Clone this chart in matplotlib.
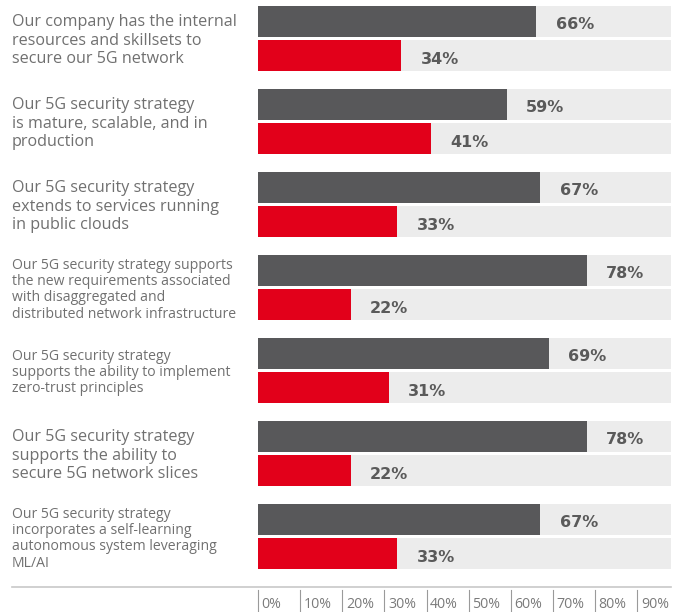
import matplotlib
matplotlib.use('Agg')
import matplotlib.pyplot as plt
import matplotlib.transforms as mtransforms
from matplotlib.lines import Line2D
import numpy as np

categories = [
    "Our company has the internal\nresources and skillsets to\nsecure our 5G network",
    "Our 5G security strategy\nis mature, scalable, and in\nproduction",
    "Our 5G security strategy\nextends to services running\nin public clouds",
    "Our 5G security strategy supports\nthe new requirements associated\nwith disaggregated and\ndistributed network infrastructure",
    "Our 5G security strategy\nsupports the ability to implement\nzero-trust principles",
    "Our 5G security strategy\nsupports the ability to\nsecure 5G network slices",
    "Our 5G security strategy\nincorporates a self-learning\nautonomous system leveraging\nML/AI",
]
large_label = [True, True, True, False, False, True, False]
agree = [66, 59, 67, 78, 69, 78, 67]
disagree = [34, 41, 33, 22, 31, 22, 33]
tick_values = [0, 10, 20, 30, 40, 50, 60, 70, 80, 90]
track = 98

W, H = 686, 612
fig = plt.figure(figsize=(W / 100, H / 100), dpi=100)
# axes spans from the 0% line to the end of the grey tracks, top of figure to baseline rule
ax = fig.add_axes([258 / W, (H - 587) / H, 413 / W, 587 / H])
ax.set_xlim(0, track)
ax.set_ylim(6.608, -0.464)
ax.axis('off')

grey = '#58585a'
red = '#e2001a'
track_col = '#ececec'
text_col = '#707070'
value_col = '#5a5a5a'

y = np.arange(len(categories))
off = 0.205
h = 0.373

for yy in (y - off, y + off):
    ax.barh(yy, track, height=h, color=track_col, zorder=1)
ax.barh(y - off, agree, height=h, color=grey, zorder=2)
ax.barh(y + off, disagree, height=h, color=red, zorder=2)

for i in range(len(categories)):
    for yy, v in ((y[i] - off, agree[i]), (y[i] + off, disagree[i])):
        ax.annotate(f"{v}%", xy=(v, yy), xytext=(14, -2.5), textcoords='offset points',
                    ha='left', va='center', fontsize=11.5, fontweight='bold',
                    color=value_col, family='DejaVu Sans')

# category text sits in the left margin, a little below the group centre
lab_tr = mtransforms.blended_transform_factory(fig.transFigure, ax.transData) + \
    mtransforms.ScaledTranslation(0, -2 / 100, fig.dpi_scale_trans)
for i, cat in enumerate(categories):
    ax.text(12 / W, y[i], cat, transform=lab_tr, ha='left', va='center',
            fontsize=11.6 if large_label[i] else 10.1, color=text_col,
            family='Open Sans',
            linespacing=1.2 if large_label[i] else 1.12)

# baseline rule and the tick dividers under it
fig.add_artist(Line2D([12 / W, 671 / W], [(H - 587) / H] * 2, color='#c8c8c8', lw=1.2))
tick_tr = mtransforms.blended_transform_factory(ax.transData, fig.transFigure)
for t in tick_values:
    ax.add_artist(Line2D([t, t], [0, (H - 590) / H], transform=tick_tr,
                         color='#9a9a9a', lw=0.8, clip_on=False))
    ax.annotate(f"{t}%", xy=(t, 7 / H), xycoords=tick_tr, xytext=(2.5, 0),
                textcoords='offset points', ha='left', va='center',
                fontsize=10.2, color='#7a7a7a', family='Open Sans', annotation_clip=False)

fig.savefig('out.png', dpi=100)
